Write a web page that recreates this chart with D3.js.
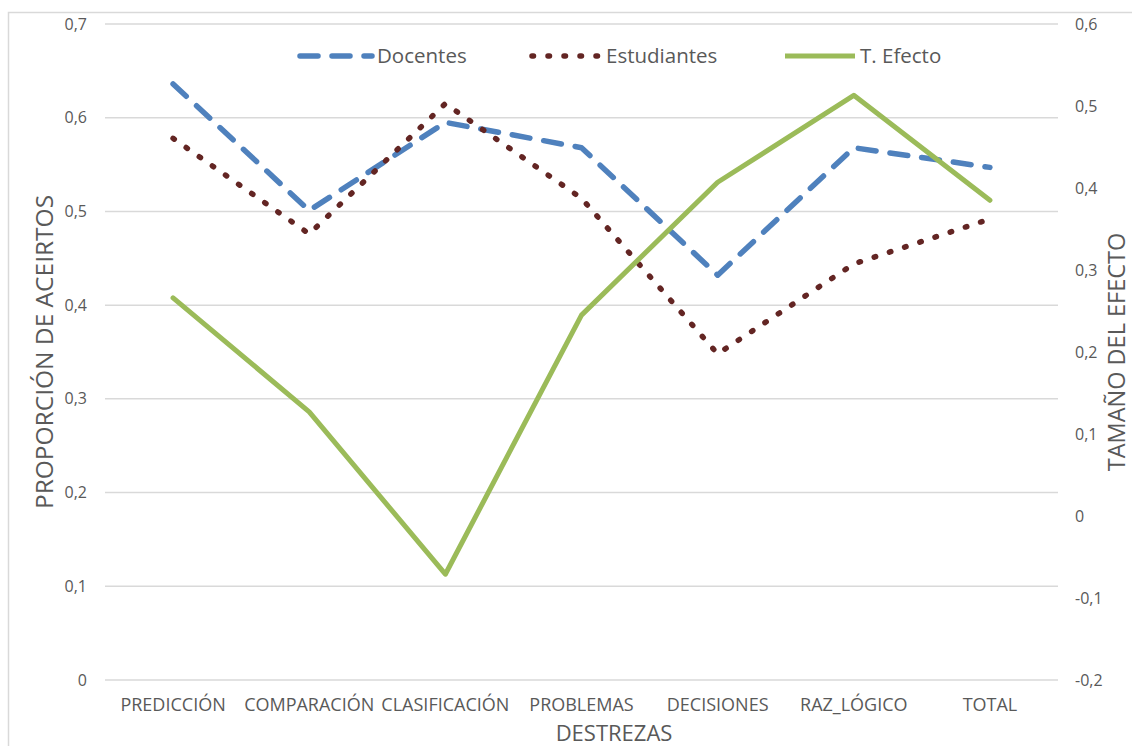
<!DOCTYPE html>
<html>
<head>
<meta charset="utf-8">
<script src="https://cdn.jsdelivr.net/npm/d3@7"></script>
<style>
  html, body { margin: 0; padding: 0; background: #fff; }
  svg { display: block; }
</style>
</head>
<body>
<script>
const categories = ["PREDICCIÓN", "COMPARACIÓN", "CLASIFICACIÓN", "PROBLEMAS", "DECISIONES", "RAZ_LÓGICO", "TOTAL"];
const docentes    = [0.636, 0.501, 0.595, 0.568, 0.432, 0.568, 0.547];
const estudiantes = [0.578, 0.476, 0.615, 0.514, 0.348, 0.444, 0.492];
const tEfecto     = [0.266, 0.127, -0.071, 0.245, 0.407, 0.513, 0.385];
const leftTicks  = [0, 0.1, 0.2, 0.3, 0.4, 0.5, 0.6, 0.7];
const rightTicks = [-0.2, -0.1, 0, 0.1, 0.2, 0.3, 0.4, 0.5, 0.6];
const seriesNames = ["Docentes", "Estudiantes", "T. Efecto"];

const W = 1132, H = 746;
const plot = { left: 105, right: 1058, top: 24, bottom: 680 };
const font = "'Open Sans', sans-serif";

const svg = d3.select("body").append("svg").attr("width", W).attr("height", H);

// chart border
svg.append("rect").attr("x", 8.5).attr("y", 12.5).attr("width", 1140).attr("height", 760)
  .attr("fill", "none").attr("stroke", "#d9d9d9").attr("stroke-width", 1.5);

const x = d3.scaleBand().domain(categories).range([plot.left, plot.right]);
const yL = d3.scaleLinear().domain([0, 0.7]).range([plot.bottom, plot.top]);
const yR = d3.scaleLinear().domain([-0.2, 0.6]).range([plot.bottom, plot.top]);
const fmt = v => (v === 0 ? "0" : d3.format(".1f")(v).replace(".", ",").replace("−", "-"));

// gridlines
svg.append("g").selectAll("line").data(leftTicks).join("line")
  .attr("x1", plot.left).attr("x2", plot.right)
  .attr("y1", d => yL(d)).attr("y2", d => yL(d))
  .attr("stroke", "#d9d9d9").attr("stroke-width", 1.5);

// left axis labels
const axL = d3.axisLeft(yL).tickValues(leftTicks).tickFormat(fmt).tickSize(0).tickPadding(0);
const gL = svg.append("g").attr("transform", "translate(87,0)").call(axL);
gL.select(".domain").remove();
gL.selectAll("text").attr("font-family", font).attr("font-size", 16).attr("fill", "#595959");

// right axis labels
const axR = d3.axisRight(yR).tickValues(rightTicks).tickFormat(fmt).tickSize(0).tickPadding(0);
const gR = svg.append("g").attr("transform", "translate(1075,0)").call(axR);
gR.select(".domain").remove();
gR.selectAll("text").attr("font-family", font).attr("font-size", 16).attr("fill", "#595959");

// category axis
const axB = d3.axisBottom(x).tickSize(0).tickPadding(0);
const gB = svg.append("g").attr("transform", "translate(0,698)").call(axB);
gB.select(".domain").remove();
gB.selectAll("text").attr("font-family", font).attr("font-size", 18).attr("fill", "#595959");

// axis titles
svg.append("text").attr("x", 614).attr("y", 741).attr("text-anchor", "middle")
  .attr("font-family", font).attr("font-size", 22).attr("fill", "#595959").text("DESTREZAS");
svg.append("text").attr("transform", "translate(53,352) rotate(-90)").attr("text-anchor", "middle")
  .attr("font-family", font).attr("font-size", 24.5).attr("fill", "#595959").text("PROPORCIÓN DE ACEIRTOS");
svg.append("text").attr("transform", "translate(1125,352) rotate(-90)").attr("text-anchor", "middle")
  .attr("font-family", font).attr("font-size", 23.5).attr("fill", "#595959").text("TAMAÑO DEL EFECTO");

const cx = c => x(c) + x.bandwidth() / 2;
const lineL = d3.line().x((d, i) => cx(categories[i])).y(d => yL(d));
const lineR = d3.line().x((d, i) => cx(categories[i])).y(d => yR(d));

const styles = [
  { color: "#4F81BD", width: 5.5, dash: "18 14" },
  { color: "#632523", width: 5.5, dash: "1.5 14.5" },
  { color: "#9BBB59", width: 5, dash: null }
];

svg.append("path").datum(docentes).attr("d", lineL).attr("fill", "none")
  .attr("stroke", styles[0].color).attr("stroke-width", styles[0].width)
  .attr("stroke-dasharray", styles[0].dash).attr("stroke-linecap", "round").attr("stroke-linejoin", "round");
svg.append("path").datum(estudiantes).attr("d", lineL).attr("fill", "none")
  .attr("stroke", styles[1].color).attr("stroke-width", styles[1].width)
  .attr("stroke-dasharray", styles[1].dash).attr("stroke-linecap", "round").attr("stroke-linejoin", "round");
svg.append("path").datum(tEfecto).attr("d", lineR).attr("fill", "none")
  .attr("stroke", styles[2].color).attr("stroke-width", styles[2].width)
  .attr("stroke-linecap", "round").attr("stroke-linejoin", "round");

// legend
const legendX = [[300, 372, 377], [532, 600, 606], [785, 855, 860]];
const lg = svg.append("g");
seriesNames.forEach((name, i) => {
  const [x1, x2, tx] = legendX[i];
  lg.append("line").attr("x1", x1).attr("x2", x2).attr("y1", 56).attr("y2", 56)
    .attr("stroke", styles[i].color).attr("stroke-width", styles[i].width)
    .attr("stroke-dasharray", styles[i].dash).attr("stroke-linecap", i === 2 ? "butt" : "round");
  lg.append("text").attr("x", tx).attr("y", 56).attr("dy", "0.35em")
    .attr("font-family", font).attr("font-size", 20.5).attr("fill", "#595959").text(name);
});
</script>
</body>
</html>
